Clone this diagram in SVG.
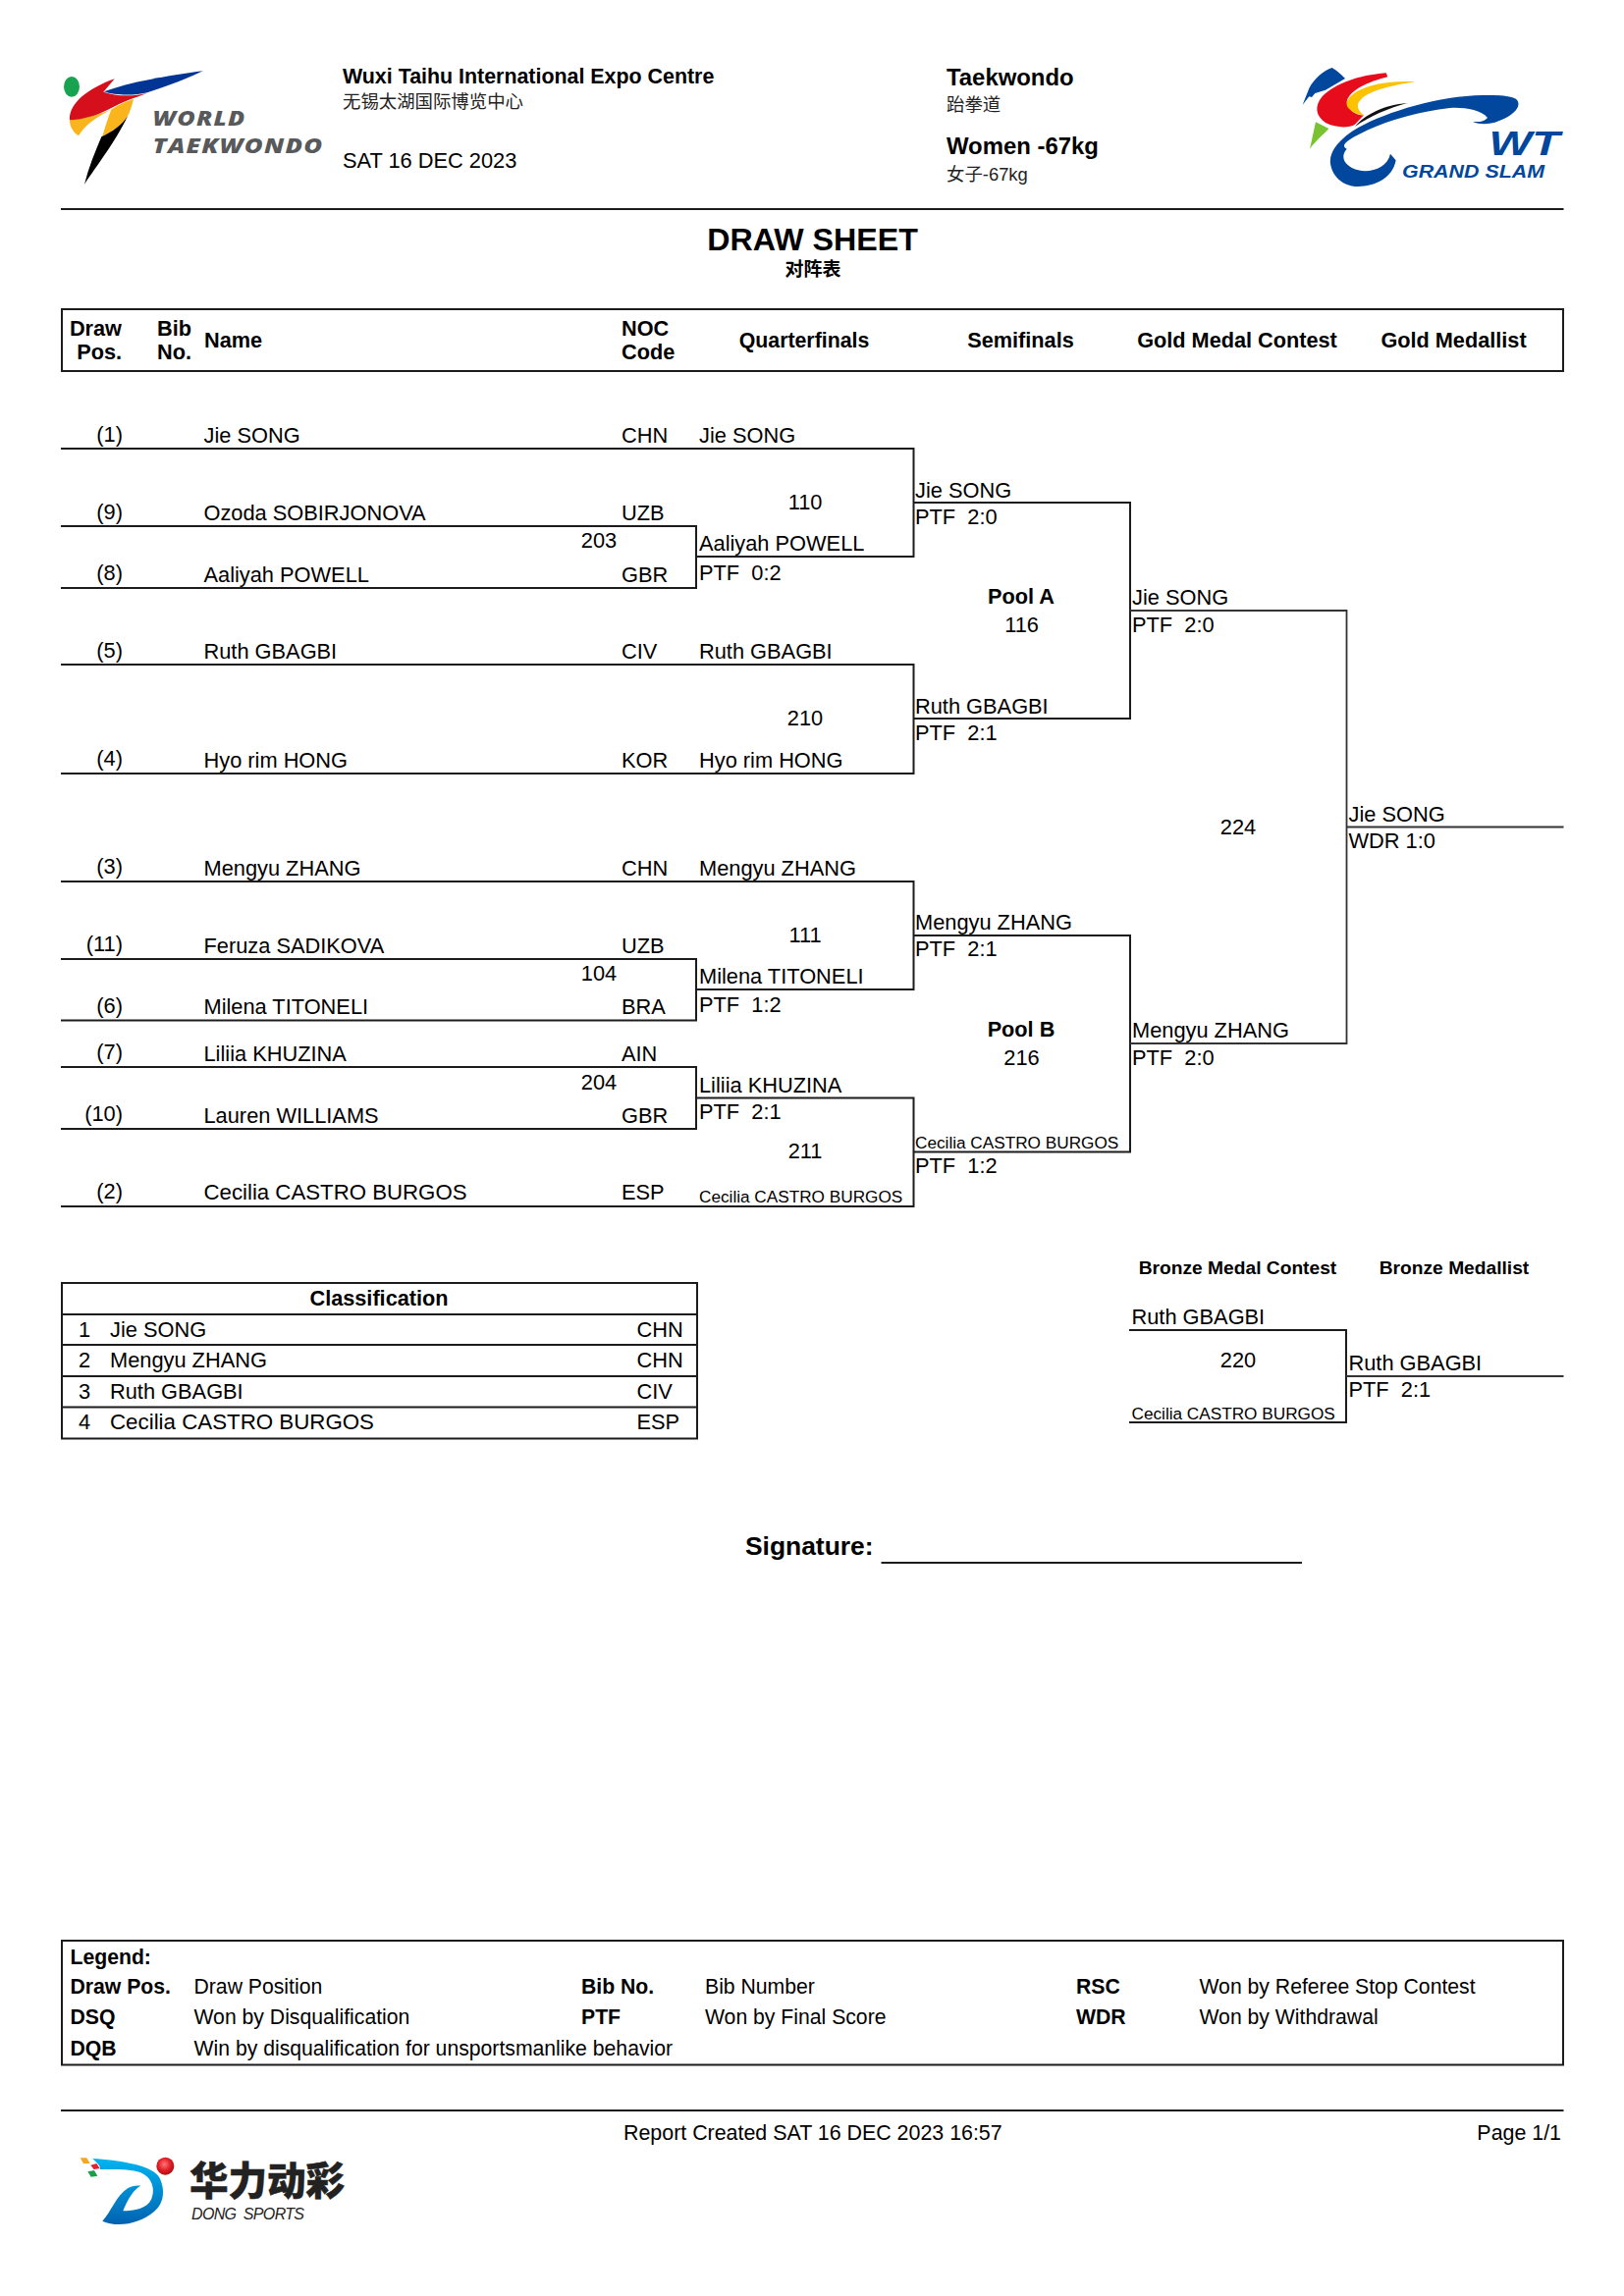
<svg xmlns="http://www.w3.org/2000/svg" width="1654" height="2339" viewBox="0 0 1654 2339">
<defs>
<linearGradient id="dsBlue" x1="0" y1="0" x2="0" y2="1"><stop offset="0" stop-color="#00b4f0"/><stop offset="1" stop-color="#0062b1"/></linearGradient>
<radialGradient id="dsBall" cx="0.45" cy="0.4" r="0.6"><stop offset="0" stop-color="#f77"/><stop offset="0.6" stop-color="#e01b24"/><stop offset="1" stop-color="#a80f18"/></radialGradient>
</defs>
<style>
text{font-family:"Liberation Sans","Noto Sans CJK SC",sans-serif;font-size:21.8px;fill:#000}
.b{font-weight:700;font-size:21.7px}
.m{text-anchor:middle}
.e{text-anchor:end}
.s{font-size:17.2px}
.h{font-size:23.9px;font-weight:700}
.zh{font-size:18.4px;fill:#222}
.bz{font-size:19.2px;font-weight:700;text-anchor:middle}
.l{font-size:21.2px}
.ln{fill:none;stroke:#1c1c1c;stroke-width:2}
.lt{fill:none;stroke:#333;stroke-width:1.8}
.wt{font-family:"Open Sans","Liberation Sans",sans-serif;font-weight:800;font-style:italic;fill:#58595b;font-size:20.5px;letter-spacing:1px}
.gs{font-weight:700;font-style:italic;fill:#00479d}
</style>
<rect width="1654" height="2339" fill="#fff"/>

<g id="logo-world-taekwondo">
<g transform="translate(50,55) scale(0.3333)">
<ellipse cx="69" cy="100" rx="24" ry="31" fill="#17a34f"/>
<path d="M63,202C110,197 150,185 190,170C150,190 110,215 90,250C75,240 63,225 63,202Z" fill="#fab51c"/>
<path d="M258,137C220,150 195,165 190,170C180,195 170,225 163,252C195,235 225,215 240,190C250,170 255,150 258,137Z" fill="#fab51c"/>
<path d="M240,190C225,215 190,240 160,253C140,300 120,350 108,398C140,350 205,265 240,190Z" fill="#000"/>
<path d="M200,76L166,116C205,130 260,130 300,119C260,135 230,143 180,170C140,190 100,200 63,202C60,150 120,105 200,76Z" fill="#d60f1c"/>
<path d="M168,115C250,85 370,65 470,52C400,85 340,105 300,118C260,128 200,127 168,115Z" fill="#003595"/>
</g>
<text class="wt" x="155.500" y="128" textLength="95" lengthAdjust="spacingAndGlyphs">WORLD</text>
<text class="wt" x="155.500" y="156" textLength="174" lengthAdjust="spacingAndGlyphs">TAEKWONDO</text>
</g>

<g id="venue">
<text class="b" x="349" y="85" style="font-size:21.4px">Wuxi Taihu International Expo Centre</text>
<text class="zh" x="349" y="110">无锡太湖国际博览中心</text>
<text x="349" y="171">SAT 16 DEC 2023</text>
</g>
<g id="event">
<text class="h" x="964" y="87">Taekwondo</text>
<text class="zh" x="964" y="113">跆拳道</text>
<text class="h" x="964" y="157">Women -67kg</text>
<text class="zh" x="964" y="184">女子-67kg</text>
</g>

<g id="logo-grand-slam">
<g transform="translate(1320,55) scale(0.3333)">
<path d="M110,42C85,50 55,75 40,105L20,155L40,130L48,132L58,120L90,110L150,75C135,60 125,50 110,42Z" fill="#00479d"/>
<path d="M275,58C190,65 120,90 80,130C55,160 60,190 90,210C120,225 160,228 180,215L207,187C180,190 155,165 155,145C165,110 220,85 280,70Z" fill="#e60c1c"/>
<path d="M365,85C300,80 230,90 185,115C155,135 145,155 165,170C175,180 190,185 207,187C188,172 182,155 197,140C225,110 300,95 365,85Z" fill="#fdc300"/>
<path d="M100,228L60,208L42,290C60,265 85,245 100,228Z" fill="#7ac231"/>
<path d="M180,222C210,185 270,155 340,150C285,165 225,190 180,222Z" fill="#111"/>
<path d="M570,126C440,128 280,175 190,225C130,260 100,300 105,335C112,380 150,405 190,405C240,405 295,380 305,325L288,305C280,345 230,365 190,355C155,345 130,320 155,290C135,280 150,265 220,232C290,200 380,175 470,165C505,162 565,168 585,195C575,207 560,208 540,207C565,218 600,215 630,200C665,185 690,160 675,140C660,128 620,125 570,126Z" fill="#00479d"/>
</g>
<text class="gs" x="1516.500" y="158" style="font-size:35px" textLength="72" lengthAdjust="spacingAndGlyphs">WT</text>
<text class="gs" x="1428" y="180.700" style="font-size:18.600px" textLength="145" lengthAdjust="spacingAndGlyphs">GRAND SLAM</text>
</g>

<g id="title">
<path class="ln" d="M62,213H1592.500"/>
<text class="b m" x="827.500" y="255" style="font-size:32.200px">DRAW SHEET</text>
<text class="b m" x="828" y="281" style="font-size:19px">对阵表</text>
</g>

<g id="table-header">
<rect class="ln" x="63" y="315" width="1529" height="63"/>
<text class="b e" x="124" y="342">Draw</text>
<text class="b e" x="124" y="366">Pos.</text>
<text class="b" x="160" y="342">Bib</text>
<text class="b" x="160" y="366">No.</text>
<text class="b" x="208" y="354">Name</text>
<text class="b" x="633" y="342">NOC</text>
<text class="b" x="633" y="366">Code</text>
<text class="b m" x="819" y="354" style="font-size:21.3px">Quarterfinals</text>
<text class="b m" x="1039.500" y="354">Semifinals</text>
<text class="b m" x="1260" y="354">Gold Medal Contest</text>
<text class="b m" x="1480.500" y="354">Gold Medallist</text>
</g>

<g id="connectors">
<path class="ln" d="M62,457H930.500V567H709"/>
<path class="ln" d="M62,536H709V599H62"/>
<path class="ln" d="M62,677H930.500V788H62"/>
<path class="ln" d="M62,898H930.500V1008H709"/>
<path class="ln" d="M62,977H709V1039.500H62"/>
<path class="ln" d="M62,1087H709V1150H62"/>
<path class="ln" d="M709,1118.500H930.500V1229H62"/>
<path class="ln" d="M930.500,512H1151V732H930.500"/>
<path class="ln" d="M930.500,953H1151V1173.500H930.500"/>
<path class="lt" d="M1151,622H1371.500V1063H1151"/>
<path class="lt" d="M1371.500,842.500H1592.500"/>
<path class="ln" d="M1150,1355H1371V1449H1150"/>
<path class="lt" d="M1371,1402H1592.500"/>
</g>

<g id="entry-1"><text class="e" x="125" y="449.500">(1)</text><text x="207.500" y="451">Jie SONG</text><text x="633" y="451">CHN</text></g>
<g id="entry-9"><text class="e" x="125" y="528.500">(9)</text><text x="207.500" y="530">Ozoda SOBIRJONOVA</text><text x="633" y="530">UZB</text></g>
<g id="entry-8"><text class="e" x="125" y="591">(8)</text><text x="207.500" y="592.500">Aaliyah POWELL</text><text x="633" y="592.500">GBR</text></g>
<g id="entry-5"><text class="e" x="125" y="669.500">(5)</text><text x="207.500" y="671">Ruth GBAGBI</text><text x="633" y="671">CIV</text></g>
<g id="entry-4"><text class="e" x="125" y="780">(4)</text><text x="207.500" y="781.500">Hyo rim HONG</text><text x="633" y="781.500">KOR</text></g>
<g id="entry-3"><text class="e" x="125" y="890">(3)</text><text x="207.500" y="891.500">Mengyu ZHANG</text><text x="633" y="891.500">CHN</text></g>
<g id="entry-11"><text class="e" x="125" y="969">(11)</text><text x="207.500" y="970.500">Feruza SADIKOVA</text><text x="633" y="970.500">UZB</text></g>
<g id="entry-6"><text class="e" x="125" y="1031.500">(6)</text><text x="207.500" y="1033">Milena TITONELI</text><text x="633" y="1033">BRA</text></g>
<g id="entry-7"><text class="e" x="125" y="1079">(7)</text><text x="207.500" y="1080.500">Liliia KHUZINA</text><text x="633" y="1080.500">AIN</text></g>
<g id="entry-10"><text class="e" x="125" y="1142">(10)</text><text x="207.500" y="1143.500">Lauren WILLIAMS</text><text x="633" y="1143.500">GBR</text></g>
<g id="entry-2"><text class="e" x="125" y="1220.500">(2)</text><text x="207.500" y="1222" textLength="268" lengthAdjust="spacingAndGlyphs">Cecilia CASTRO BURGOS</text><text x="633" y="1222">ESP</text></g>

<g id="match-203"><text class="m" x="610" y="558">203</text></g>
<g id="match-104"><text class="m" x="610" y="999">104</text></g>
<g id="match-204"><text class="m" x="610" y="1110">204</text></g>

<g id="qf-110"><text x="712" y="451">Jie SONG</text><text class="m" x="820" y="519">110</text><text x="712" y="561">Aaliyah POWELL</text><text x="712" y="591" xml:space="preserve">PTF  0:2</text></g>
<g id="qf-210"><text x="712" y="671">Ruth GBAGBI</text><text class="m" x="820" y="739">210</text><text x="712" y="781.500">Hyo rim HONG</text></g>
<g id="qf-111"><text x="712" y="891.500">Mengyu ZHANG</text><text class="m" x="820" y="960">111</text><text x="712" y="1002">Milena TITONELI</text><text x="712" y="1031" xml:space="preserve">PTF  1:2</text></g>
<g id="qf-211"><text x="712" y="1112.500">Liliia KHUZINA</text><text x="712" y="1139.500" xml:space="preserve">PTF  2:1</text><text class="m" x="820" y="1180">211</text><text class="s" x="712" y="1225">Cecilia CASTRO BURGOS</text></g>

<g id="sf-116"><text x="932" y="506.500">Jie SONG</text><text x="932" y="533.500" xml:space="preserve">PTF  2:0</text><text class="b m" x="1040" y="615">Pool A</text><text class="m" x="1040.500" y="644">116</text><text x="932" y="727">Ruth GBAGBI</text><text x="932" y="754" xml:space="preserve">PTF  2:1</text></g>
<g id="sf-216"><text x="932" y="947">Mengyu ZHANG</text><text x="932" y="974" xml:space="preserve">PTF  2:1</text><text class="b m" x="1040" y="1056">Pool B</text><text class="m" x="1040.500" y="1085">216</text><text class="s" x="932" y="1169.500">Cecilia CASTRO BURGOS</text><text x="932" y="1195" xml:space="preserve">PTF  1:2</text></g>

<g id="final-224"><text x="1153" y="616">Jie SONG</text><text x="1153" y="643.500" xml:space="preserve">PTF  2:0</text><text class="m" x="1261" y="850">224</text><text x="1153" y="1057">Mengyu ZHANG</text><text x="1153" y="1085" xml:space="preserve">PTF  2:0</text></g>
<g id="gold-medallist"><text x="1373.500" y="836.500">Jie SONG</text><text x="1373.500" y="864">WDR 1:0</text></g>

<g id="bronze-220">
<text class="bz" x="1260.500" y="1298">Bronze Medal Contest</text>
<text class="bz" x="1481" y="1298">Bronze Medallist</text>
<text x="1152.500" y="1348.500">Ruth GBAGBI</text>
<text class="m" x="1261" y="1393">220</text>
<text class="s" x="1152.500" y="1445.500">Cecilia CASTRO BURGOS</text>
</g>
<g id="bronze-medallist"><text x="1373.500" y="1396">Ruth GBAGBI</text><text x="1373.500" y="1422.500" xml:space="preserve">PTF  2:1</text></g>

<g id="classification">
<path class="ln" d="M63,1307H710V1465.500H63Z"/>
<path class="ln" d="M63,1339H710M63,1370H710M63,1402H710M63,1433.500H710"/>
<text class="b m" x="386" y="1330">Classification</text>
<text class="m" x="86" y="1362">1</text><text x="112" y="1362">Jie SONG</text><text x="648.500" y="1362">CHN</text>
<text class="m" x="86" y="1393">2</text><text x="112" y="1393">Mengyu ZHANG</text><text x="648.500" y="1393">CHN</text>
<text class="m" x="86" y="1425">3</text><text x="112" y="1425">Ruth GBAGBI</text><text x="648.500" y="1425">CIV</text>
<text class="m" x="86" y="1456">4</text><text x="112" y="1456" textLength="269" lengthAdjust="spacingAndGlyphs">Cecilia CASTRO BURGOS</text><text x="648.500" y="1456">ESP</text>
</g>

<g id="signature">
<text class="b" x="759" y="1584" style="font-size:26.400px">Signature:</text>
<path class="ln" d="M897.500,1592H1326"/>
</g>

<g id="legend">
<rect class="ln" x="63" y="1977" width="1529" height="126.500"/>
<text class="b" x="71.500" y="2001" style="font-size:21.200px">Legend:</text>
<text class="b" x="71.500" y="2031" style="font-size:21.200px">Draw Pos.</text><text class="l" x="197.500" y="2031">Draw Position</text>
<text class="b" x="592" y="2031" style="font-size:21.200px">Bib No.</text><text class="l" x="718" y="2031">Bib Number</text>
<text class="b" x="1096" y="2031" style="font-size:21.200px">RSC</text><text class="l" x="1221.500" y="2031">Won by Referee Stop Contest</text>
<text class="b" x="71.500" y="2062" style="font-size:21.200px">DSQ</text><text class="l" x="197.500" y="2062">Won by Disqualification</text>
<text class="b" x="592" y="2062" style="font-size:21.200px">PTF</text><text class="l" x="718" y="2062">Won by Final Score</text>
<text class="b" x="1096" y="2062" style="font-size:21.200px">WDR</text><text class="l" x="1221.500" y="2062">Won by Withdrawal</text>
<text class="b" x="71.500" y="2094" style="font-size:21.200px">DQB</text><text class="l" x="197.500" y="2094">Win by disqualification for unsportsmanlike behavior</text>
</g>

<g id="footer">
<path class="ln" d="M62,2150H1592.500"/>
<text class="l" x="635" y="2180" style="font-size:21.400px">Report Created SAT 16 DEC 2023 16:57</text>
<text class="l e" x="1590" y="2180" style="font-size:21.400px">Page 1/1</text>
</g>

<g id="logo-dong-sports">
<g transform="translate(50,2130) scale(0.3333)">
<path d="M95,205H115L125,222H105Z" fill="#f5a623"/>
<path d="M127,227L145,222L155,237L137,240Z" fill="#e8202a"/>
<path d="M118,247L138,243L148,260L128,263Z" fill="#1f9e4a"/>
<path d="M133,207C210,212 310,225 335,262C352,290 358,340 320,370C280,405 210,420 163,398C190,370 205,320 240,298C250,292 265,288 280,290C260,300 240,330 226,367C260,367 300,360 313,330C325,300 315,265 280,250C245,238 205,240 155,240C160,230 145,220 133,207Z" fill="url(#dsBlue)"/>
<circle cx="355" cy="230" r="27" fill="url(#dsBall)"/>
</g>
<text x="193" y="2236" style="font-size:39.500px;font-weight:900;fill:#222;stroke:#222;stroke-width:.5">华力动彩</text>
<text x="195" y="2261" style="font-size:16px;font-style:italic;fill:#222" textLength="115" lengthAdjust="spacing" xml:space="preserve">DONG  SPORTS</text>
</g>
</svg>
